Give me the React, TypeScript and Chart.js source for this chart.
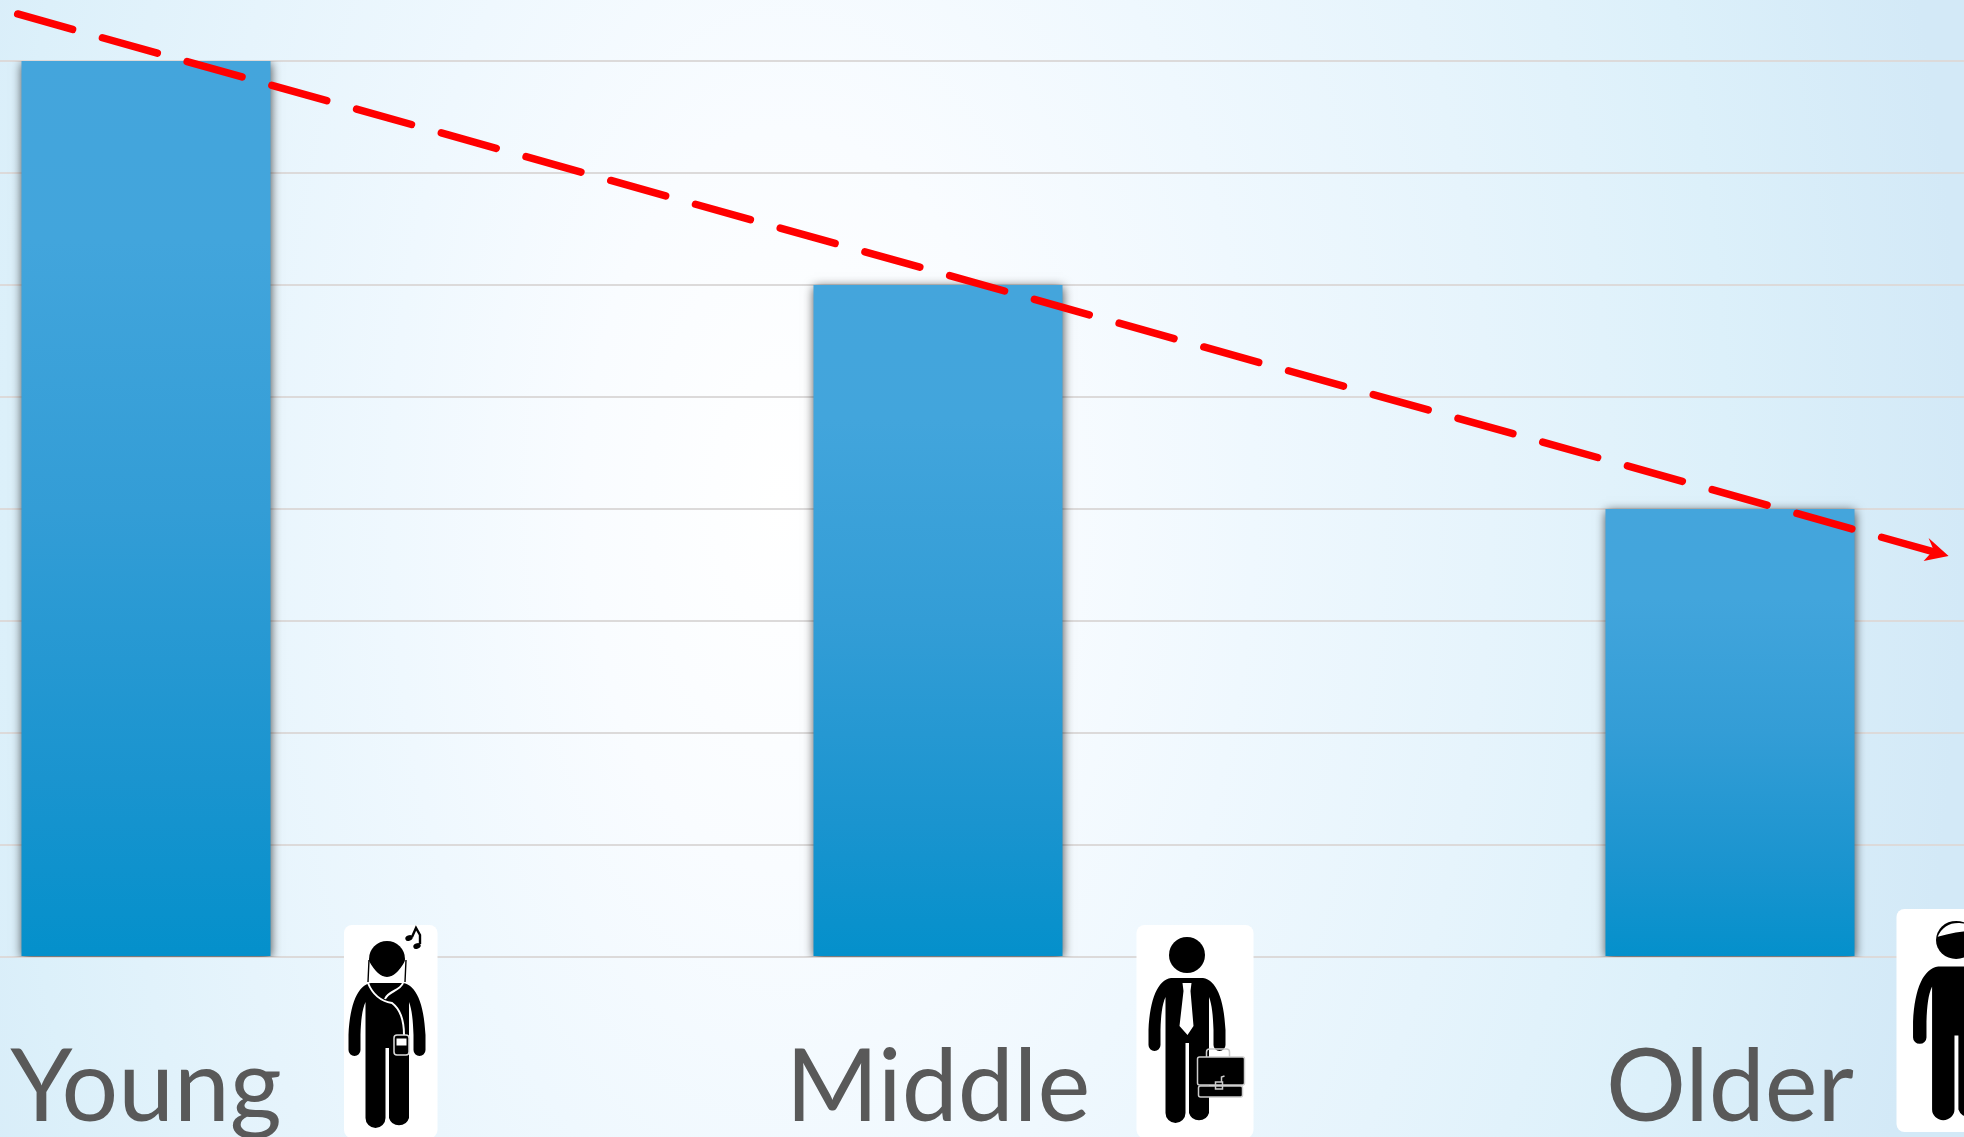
import React, { useEffect, useRef } from "react";
import { Chart, registerables } from "chart.js";

Chart.register(...registerables);

const categories = ["Young", "Middle", "Older"];
const barValues = [8, 6, 4];
const trendX = [-0.162, 2.276];
const trendY = [8.42, 3.58];
const yTicks = { min: 0, max: 8, stepSize: 1 };

const BODY =
  "M27 58 L59 58 C72 60 80 78 81.5 110 L81.5 125 A6 6 0 0 1 69.5 125 L69.5 110 C69 95 68 85 65 77 L65 193 A10.5 10.5 0 0 1 45 193 L45 123 L41.5 123 L41.5 193 A10 10 0 0 1 21.5 193 L21.5 77 C18 85 17 95 16.5 110 L16.5 125 A6 6 0 0 1 4.5 125 L4.5 110 C6 78 14 60 27 58 Z";

function roundRect(ctx: CanvasRenderingContext2D, x: number, y: number, w: number, h: number, r: number) {
  ctx.beginPath();
  ctx.roundRect(x, y, w, h, r);
  ctx.fill();
}

function drawBody(ctx: CanvasRenderingContext2D, headY: number, headR: number) {
  ctx.fillStyle = "#000";
  ctx.beginPath();
  ctx.arc(43, headY, headR, 0, Math.PI * 2);
  ctx.fill();
  ctx.fill(new Path2D(BODY));
}

function drawYoung(ctx: CanvasRenderingContext2D, x: number, y: number) {
  ctx.save();
  ctx.fillStyle = "#fff";
  roundRect(ctx, x, y, 93.5, 213, 8);
  ctx.translate(x, y);
  drawBody(ctx, 34, 18);
  // chin cut
  ctx.fillStyle = "#fff";
  ctx.beginPath();
  ctx.moveTo(25, 36);
  ctx.quadraticCurveTo(43, 68, 61, 36);
  ctx.lineTo(61, 56);
  ctx.lineTo(25, 56);
  ctx.closePath();
  ctx.fill();
  // wire
  ctx.strokeStyle = "#fff";
  ctx.lineWidth = 2;
  ctx.beginPath();
  ctx.moveTo(24, 58);
  ctx.bezierCurveTo(28, 68, 36, 76, 48, 78);
  ctx.bezierCurveTo(56, 84, 60, 96, 60, 110);
  ctx.moveTo(59, 58);
  ctx.bezierCurveTo(56, 66, 44, 66, 41, 74);
  ctx.stroke();
  ctx.strokeStyle = "#000";
  ctx.lineWidth = 1.4;
  ctx.beginPath();
  ctx.moveTo(25, 35);
  ctx.lineTo(24, 57);
  ctx.moveTo(62, 35);
  ctx.lineTo(61, 57);
  ctx.stroke();
  // player
  ctx.fillStyle = "#000";
  ctx.strokeStyle = "#ddd";
  ctx.lineWidth = 1.5;
  ctx.beginPath();
  ctx.roundRect(50, 110, 15, 20, 3);
  ctx.fill();
  ctx.stroke();
  ctx.fillStyle = "#fff";
  ctx.fillRect(52.5, 113.5, 10, 7);
  // note
  ctx.fillStyle = "#000";
  ctx.strokeStyle = "#000";
  ctx.lineWidth = 2.4;
  ctx.beginPath();
  ctx.ellipse(65, 13, 3.8, 2.8, -0.4, 0, Math.PI * 2);
  ctx.ellipse(73, 21, 3.8, 2.8, -0.4, 0, Math.PI * 2);
  ctx.fill();
  ctx.beginPath();
  ctx.moveTo(68, 12);
  ctx.lineTo(72, 3);
  ctx.lineTo(76, 10);
  ctx.lineTo(76, 19);
  ctx.stroke();
  ctx.restore();
}

function drawMiddle(ctx: CanvasRenderingContext2D, x: number, y: number) {
  ctx.save();
  ctx.fillStyle = "#fff";
  roundRect(ctx, x, y, 117, 213, 8);
  ctx.translate(x + 7.5, y - 5);
  drawBody(ctx, 35, 18);
  ctx.translate(-7.5, 5);
  // tie
  ctx.fillStyle = "#fff";
  ctx.beginPath();
  ctx.moveTo(46, 58);
  ctx.lineTo(55, 58);
  ctx.lineTo(54, 66);
  ctx.lineTo(57, 101);
  ctx.lineTo(51, 110);
  ctx.lineTo(43, 101);
  ctx.lineTo(47, 66);
  ctx.closePath();
  ctx.fill();
  // briefcase
  ctx.strokeStyle = "#ccc";
  ctx.fillStyle = "#000";
  ctx.lineWidth = 1.5;
  ctx.beginPath();
  ctx.roundRect(70, 124, 23, 12, 3);
  ctx.stroke();
  ctx.beginPath();
  ctx.roundRect(61, 132, 47, 28, 2);
  ctx.fill();
  ctx.stroke();
  ctx.beginPath();
  ctx.roundRect(62, 161, 44, 11, 2);
  ctx.fill();
  ctx.stroke();
  ctx.strokeRect(79, 157, 7, 7);
  ctx.beginPath();
  ctx.moveTo(85, 157);
  ctx.lineTo(85, 152);
  ctx.lineTo(88, 151);
  ctx.stroke();
  ctx.restore();
}

function drawOlder(ctx: CanvasRenderingContext2D, x: number, y: number) {
  ctx.save();
  ctx.fillStyle = "#fff";
  roundRect(ctx, x, y, 117, 223, 8);
  ctx.translate(x + 11.5, y - 4);
  ctx.scale(1.12, 1.06);
  drawBody(ctx, 33, 18);
  ctx.fillStyle = "#fff";
  ctx.beginPath();
  ctx.moveTo(26.5, 30);
  ctx.quadraticCurveTo(32, 16.5, 46, 17);
  ctx.quadraticCurveTo(58, 18, 60, 24);
  ctx.quadraticCurveTo(42, 25, 26.5, 30);
  ctx.closePath();
  ctx.fill();
  ctx.restore();
}

const glowStops: [number, string][] = [
  [0, "#ffffff"],
  [0.2, "#f9fcff"],
  [0.4, "#eff8fe"],
  [0.6, "#e6f4fc"],
  [0.8, "#dcf0fa"],
  [1, "#d3e9f7"],
];

function halfGlow(
  ctx: CanvasRenderingContext2D,
  cx: number,
  cy: number,
  rx: number,
  ry: number,
  clipX: number,
  clipW: number,
  height: number
) {
  ctx.save();
  ctx.beginPath();
  ctx.rect(clipX, 0, clipW, height);
  ctx.clip();
  ctx.translate(cx, cy);
  ctx.scale(rx, ry);
  const g = ctx.createRadialGradient(0, 0, 0, 0, 0, 1);
  glowStops.forEach(([p, c]) => g.addColorStop(p, c));
  ctx.fillStyle = g;
  ctx.fillRect(-10, -10, 20, 20);
  ctx.restore();
}

const backdrop = {
  id: "backdrop",
  beforeDraw(chart: any) {
    const { ctx, width, height } = chart;
    const cx = 1030;
    const cy = 500;
    halfGlow(ctx, cx, cy, 970, 1850, 0, cx, height);
    halfGlow(ctx, cx, cy, 1184, 1850, cx, width - cx, height);
  },
};

const barShadow = {
  id: "barShadow",
  beforeDatasetDraw(chart: any, args: any) {
    if (args.index !== 1) return;
    const { ctx } = chart;
    ctx.save();
    ctx.shadowColor = "rgba(0,0,0,0.7)";
    ctx.shadowBlur = 10;
    ctx.shadowOffsetX = 0;
    ctx.shadowOffsetY = 2;
  },
  afterDatasetDraw(chart: any, args: any) {
    if (args.index === 1) chart.ctx.restore();
  },
};

const overlays = {
  id: "overlays",
  afterDatasetsDraw(chart: any) {
    const { ctx, scales } = chart;
    // arrow head at the end of the trend line
    const tipX = scales.x2.getPixelForValue(trendX[1]);
    const tipY = scales.y.getPixelForValue(trendY[1]);
    ctx.save();
    ctx.fillStyle = "#ff0000";
    ctx.beginPath();
    ctx.moveTo(tipX, tipY);
    ctx.lineTo(tipX - 20, tipY - 18);
    ctx.lineTo(tipX - 15, tipY - 6);
    ctx.lineTo(tipX - 25, tipY + 5);
    ctx.closePath();
    ctx.fill();
    ctx.restore();
    const top = scales.y.getPixelForValue(0);
    drawYoung(ctx, scales.x.getPixelForValue(0) + 198, top - 32);
    drawMiddle(ctx, scales.x.getPixelForValue(1) + 198.5, top - 32);
    drawOlder(ctx, scales.x.getPixelForValue(2) + 166.5, top - 48);
  },
};

export default function App() {
  const ref = useRef<HTMLCanvasElement>(null);
  useEffect(() => {
    const chart = new Chart(ref.current as HTMLCanvasElement, {
      type: "bar",
      data: {
        labels: categories,
        datasets: [
          {
            type: "line",
            data: trendX.map((x, i) => ({ x, y: trendY[i] })),
            xAxisID: "x2",
            yAxisID: "y",
            borderColor: "#ff0000",
            borderWidth: 7.5,
            borderDash: [57, 31],
            borderCapStyle: "round",
            pointRadius: 0,
            clip: false,
            order: 0,
          },
          {
            type: "bar",
            data: barValues,
            xAxisID: "x",
            yAxisID: "y",
            grouped: false,
            barPercentage: 249 / 792,
            categoryPercentage: 1,
            borderWidth: 0,
            backgroundColor: (c: any) => {
              const { chart: ch, raw } = c;
              if (!ch.chartArea || raw === undefined) return "#44a5dc";
              const y = ch.scales.y;
              const g = ch.ctx.createLinearGradient(0, y.getPixelForValue(raw), 0, y.getPixelForValue(0));
              g.addColorStop(0, "#44a5dc");
              g.addColorStop(0.2, "#42a5dc");
              g.addColorStop(0.5, "#339dd6");
              g.addColorStop(0.8, "#1a94cf");
              g.addColorStop(1, "#0490cb");
              return g;
            },
            order: 1,
          },
        ],
      } as any,
      options: {
        animation: false,
        responsive: false,
        devicePixelRatio: 1,
        layout: { padding: { left: 0, right: 0, top: 61, bottom: 0 } },
        plugins: { legend: { display: false }, tooltip: { enabled: false }, title: { display: false } },
        scales: {
          x: {
            type: "category",
            grid: { display: false, drawTicks: false },
            border: { display: false },
            ticks: {
              color: "#595959",
              font: { family: "Lato", size: 100 },
              padding: 72,
              autoSkip: false,
              maxRotation: 0,
            },
            afterFit: (s: any) => {
              s.height = 180;
            },
          },
          x2: { type: "linear", display: false, min: -0.5, max: 2.5, offset: false },
          y: {
            min: yTicks.min,
            max: yTicks.max,
            ticks: { display: false, stepSize: yTicks.stepSize },
            grid: { color: "#dcdada", lineWidth: 2, drawTicks: false },
            border: { display: false },
            afterFit: (s: any) => {
              s.width = 0;
            },
          },
        },
      } as any,
      plugins: [backdrop, barShadow, overlays],
    });
    return () => chart.destroy();
  }, []);
  return (
    <div style={{ position: "fixed", left: 0, top: 0, width: 1964, height: 1137, overflow: "hidden" }}>
      <canvas
        ref={ref}
        width={2376}
        height={1137}
        style={{ display: "block", position: "absolute", left: -250, top: 0 }}
      />
    </div>
  );
}
